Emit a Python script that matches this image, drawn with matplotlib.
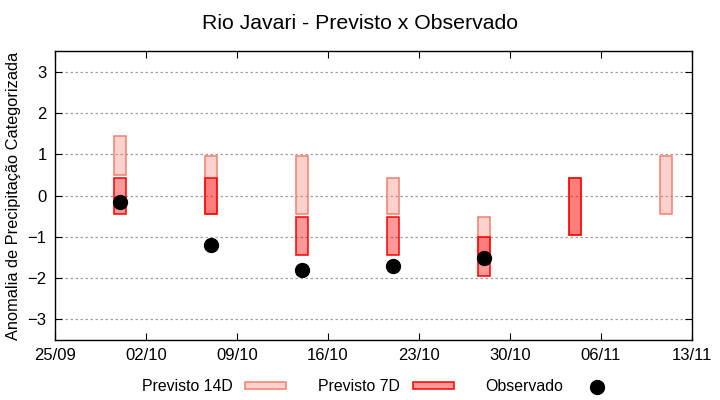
import datetime as dt

import matplotlib
matplotlib.use("Agg")
import matplotlib.pyplot as plt
import matplotlib.dates as mdates
from matplotlib.patches import Patch
from matplotlib.lines import Line2D

plt.rcParams['font.family'] = ['Liberation Sans', 'DejaVu Sans']

def d(day, month):
	return dt.datetime(2023, month, day)

# previsao 14 dias
dates14 = [d(30, 9), d(7, 10), d(14, 10), d(21, 10), d(28, 10), d(4, 11), d(11, 11)]
top14 = [1.45, 0.95, 0.95, 0.43, -0.52, 0.43, 0.95]
bot14 = [0.5, -0.45, -0.45, -0.45, -1.45, -0.95, -0.45]

# previsao 7 dias
dates7 = [d(30, 9), d(7, 10), d(14, 10), d(21, 10), d(28, 10), d(4, 11)]
top7 = [0.43, 0.43, -0.52, -0.52, -1.0, 0.43]
bot7 = [-0.45, -0.45, -1.45, -1.45, -1.95, -0.95]

# observado
datesObs = [d(30, 9), d(7, 10), d(14, 10), d(21, 10), d(28, 10)]
obs = [-0.15, -1.2, -1.8, -1.7, -1.52]

tickDates = [d(25, 9), d(2, 10), d(9, 10), d(16, 10), d(23, 10), d(30, 10), d(6, 11), d(13, 11)]

c14face = (250/255, 128/255, 114/255, 0.35)
c14edge = '#f08070'
c7face = (1.0, 0.0, 0.0, 0.4)
c7edge = '#ff0000'

def main():
	fig = plt.figure(figsize=(7.2, 4.0), dpi=100)
	ax = fig.add_axes([0.0764, 0.15, 0.8847, 0.7225])

	h14 = [t - b for t, b in zip(top14, bot14)]
	h7 = [t - b for t, b in zip(top7, bot7)]
	ax.bar(dates14, h14, bottom=bot14, width=0.9, facecolor=c14face, edgecolor=c14edge, linewidth=1.1, zorder=2)
	ax.bar(dates7, h7, bottom=bot7, width=0.9, facecolor=c7face, edgecolor=c7edge, linewidth=1.1, zorder=3)
	ax.plot(datesObs, obs, 'o', color='black', markersize=10, zorder=4)

	ax.set_ylim(-3.5, 3.5)
	ax.set_yticks([-3, -2, -1, 0, 1, 2, 3])
	ax.set_xlim(tickDates[0], tickDates[-1])
	ax.set_xticks(tickDates)
	ax.xaxis.set_major_formatter(mdates.DateFormatter('%d/%m'))
	ax.yaxis.grid(True, linestyle=(0, (2, 2)), color='#a0a0a0', linewidth=0.9)
	ax.set_axisbelow(True)
	ax.tick_params(direction='in', top=True, right=True, labelsize=12, length=5, pad=6)
	for s in ax.spines.values():
		s.set_linewidth(1.0)

	ax.set_ylabel('Anomalia de Precipitação Categorizada', fontsize=11.8, labelpad=5)
	fig.suptitle('Rio Javari - Previsto x Observado', fontsize=15.3, y=0.965)

	handles = [
		Patch(facecolor=c14face, edgecolor=c14edge, linewidth=1.1),
		Patch(facecolor=c7face, edgecolor=c7edge, linewidth=1.1),
		Line2D([], [], marker='o', linestyle='none', color='black', markersize=10),
	]
	labels = ['Previsto 14D', 'Previsto 7D', 'Observado']
	fig.legend(handles, labels, loc='center', bbox_to_anchor=(0.527, 0.033), ncol=3,
		frameon=False, markerfirst=False, fontsize=11.4, handlelength=2.6, handleheight=0.35,
		columnspacing=2.0, handletextpad=0.8)

	fig.savefig('out.png', dpi=100)

main()
